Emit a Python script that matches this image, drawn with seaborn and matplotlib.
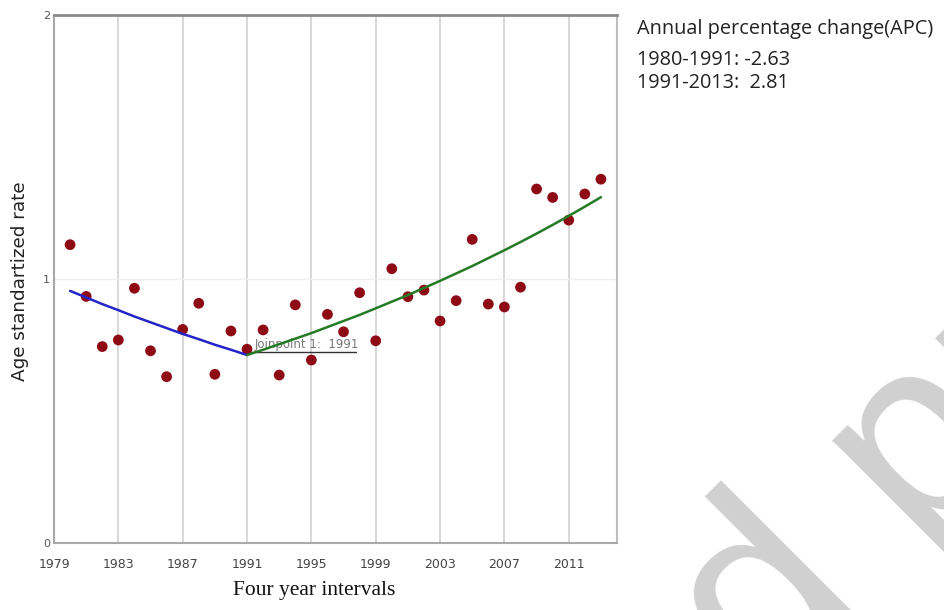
import matplotlib
matplotlib.use("Agg")
import matplotlib.pyplot as plt
import seaborn as sns
import pandas as pd

# Observed age standardized rates
years = list(range(1980, 2014))
rates = [1.13, 0.934, 0.744, 0.769, 0.965, 0.728, 0.630, 0.809, 0.908, 0.639,
         0.803, 0.734, 0.807, 0.636, 0.902, 0.693, 0.866, 0.800, 0.948, 0.766,
         1.039, 0.933, 0.958, 0.841, 0.918, 1.150, 0.905, 0.894, 0.969, 1.341,
         1.309, 1.223, 1.322, 1.378]

# Joinpoint model, segment 1 (1980-1991) and segment 2 (1991-2013)
seg1_years = list(range(1980, 1992))
seg1_fit = [0.955, 0.930, 0.905, 0.882, 0.858, 0.836, 0.814, 0.792, 0.772,
            0.751, 0.732, 0.712]
seg2_years = list(range(1991, 2014))
seg2_fit = [0.712, 0.732, 0.753, 0.774, 0.795, 0.818, 0.841, 0.864, 0.889,
            0.914, 0.939, 0.966, 0.993, 1.021, 1.049, 1.079, 1.109, 1.140,
            1.172, 1.205, 1.239, 1.274, 1.310]

xticks = [1979, 1983, 1987, 1991, 1995, 1999, 2003, 2007, 2011]
yticks = [0, 1, 2]
apc_title = "Annual percentage change(APC)"
apc_lines = ["1980-1991: -2.63", "1991-2013:  2.81"]
joinpoint_label = "Joinpoint 1:  1991"
joinpoint_year = 1991

obs = pd.DataFrame({"year": years, "rate": rates})
fit1 = pd.DataFrame({"year": seg1_years, "rate": seg1_fit})
fit2 = pd.DataFrame({"year": seg2_years, "rate": seg2_fit})

sns.set_style("white")
plt.rcParams["font.family"] = ["DejaVu Sans"]

fig = plt.figure(figsize=(9.45, 6.10), dpi=100)
ax = fig.add_axes([54 / 945, 1 - 543 / 610, (617 - 54) / 945, (543 - 15) / 610])

# Watermark letters behind everything
fig.text(765 / 945, 1 - 703 / 610, "d pr", rotation=45, rotation_mode="anchor",
         ha="left", va="baseline", fontsize=187, color="#d0d0d0",
         family=["Liberation Sans", "DejaVu Sans"], zorder=0)

sns.scatterplot(data=obs, x="year", y="rate", ax=ax, color="#8e0a14",
                s=60, edgecolor="none", zorder=3, legend=False)
sns.lineplot(data=fit1, x="year", y="rate", ax=ax, color="#2424c8",
             linewidth=1.8, zorder=4, legend=False)
sns.lineplot(data=fit2, x="year", y="rate", ax=ax, color="#257a25",
             linewidth=1.8, zorder=4, legend=False)

ax.set_xlim(1979, 2014)
ax.set_ylim(0, 2)
ax.set_xticks(xticks)
ax.set_xticklabels([str(t) for t in xticks], fontsize=9, color="#444444",
                   family=["Liberation Sans Narrow", "DejaVu Sans"])
ax.set_yticks(yticks)
ax.set_yticklabels([str(t) for t in yticks], fontsize=8, color="#555555")
ax.tick_params(axis="x", length=0, pad=11)
ax.tick_params(axis="y", length=0, pad=3)

ax.grid(axis="x", color="#d4d4d4", linewidth=1.3)
ax.grid(axis="y", color="#eeeeee", linewidth=1.0)
ax.set_axisbelow(True)

for side in ["left", "right", "bottom"]:
    ax.spines[side].set_color("#a8a8a8")
    ax.spines[side].set_linewidth(1.5)
ax.spines["top"].set_color("#8a8a8a")
ax.spines["top"].set_linewidth(2.0)
ax.spines["right"].set_color("#bdbdbd")

ax.set_xlabel("")
ax.set_ylabel("")

# Joinpoint marker label
ax.text(joinpoint_year + 0.5, 0.737, joinpoint_label, fontsize=8.5,
        color="#777777", ha="left", va="baseline", zorder=2)
ax.plot([joinpoint_year, 1997.8], [0.722, 0.722], color="#333333",
        linewidth=1.0, zorder=2)

fig.text(20 / 945, 1 - 281 / 610, "Age standartized rate", rotation=90,
         ha="center", va="center", fontsize=13.2, color="#222222")
fig.text(314 / 945, 1 - 590 / 610, "Four year intervals", ha="center",
         va="center", fontsize=15.5, color="#111111",
         family=["Liberation Serif", "DejaVu Serif"])

apc_font = dict(ha="left", va="center", fontsize=14.3, color="#222222",
                family=["Open Sans", "DejaVu Sans"])
fig.text(637 / 945, 1 - 29 / 610, apc_title, **apc_font)
fig.text(637 / 945, 1 - 60 / 610, apc_lines[0], **apc_font)
fig.text(637 / 945, 1 - 83 / 610, apc_lines[1], **apc_font)

fig.savefig("out.png", dpi=100)
